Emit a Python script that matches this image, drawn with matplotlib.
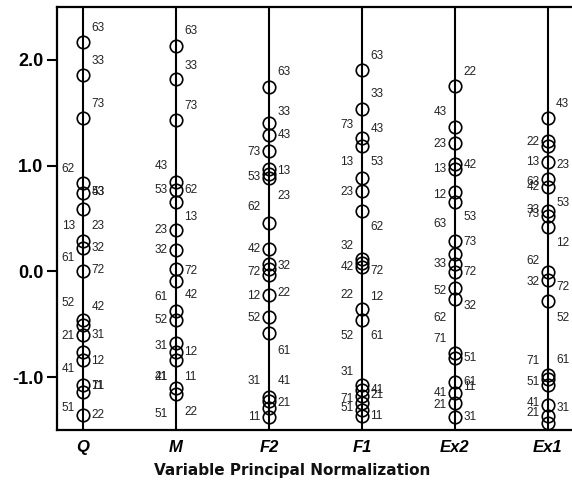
import matplotlib
matplotlib.use("Agg")
import matplotlib.pyplot as plt

# variables on the x axis
variables = ["Q", "M", "F2", "F1", "Ex2", "Ex1"]

# circle positions (object scores) per variable
q_points = [2.17, 1.86, 1.45, 0.84, 0.74, 0.59, 0.29, 0.22, 0.00, -0.46, -0.51,
            -0.60, -0.76, -0.84, -1.07, -1.14, -1.36]
m_points = [2.13, 1.82, 1.43, 0.85, 0.77, 0.66, 0.39, 0.20, 0.02, -0.09, -0.37,
            -0.46, -0.68, -0.76, -0.84, -1.10, -1.16]
f2_points = [1.74, 1.40, 1.29, 1.14, 0.97, 0.92, 0.88, 0.46, 0.21, 0.07, 0.02,
             -0.03, -0.22, -0.43, -0.58, -1.19, -1.23, -1.29, -1.38]
f1_points = [1.90, 1.54, 1.26, 1.19, 0.88, 0.76, 0.57, 0.12, 0.08, 0.04, -0.36,
             -0.46, -1.07, -1.12, -1.18, -1.24, -1.31, -1.37]
ex2_points = [1.75, 1.37, 1.21, 1.02, 0.97, 0.75, 0.66, 0.29, 0.16, 0.07, -0.01,
              -0.16, -0.26, -0.77, -0.82, -1.05, -1.15, -1.24, -1.38]
ex1_points = [1.45, 1.23, 1.19, 1.03, 0.87, 0.80, 0.57, 0.52, 0.42, -0.01, -0.08,
              -0.28, -0.98, -1.02, -1.07, -1.26, -1.37, -1.43]

# object labels: (text, side, value where the label sits)
q_labels = [("63", "r", 2.30), ("33", "r", 1.99), ("73", "r", 1.58), ("62", "l", 0.97),
            ("43", "r", 0.75), ("53", "r", 0.75), ("13", "l", 0.43), ("23", "r", 0.43),
            ("61", "l", 0.13), ("32", "r", 0.22), ("72", "r", 0.01), ("52", "l", -0.30),
            ("42", "r", -0.34), ("21", "l", -0.61), ("31", "r", -0.60), ("12", "r", -0.85),
            ("41", "l", -0.92), ("71", "r", -1.08), ("11", "r", -1.08), ("51", "l", -1.29),
            ("22", "r", -1.36)]
m_labels = [("63", "r", 2.27), ("33", "r", 1.94), ("73", "r", 1.56), ("43", "l", 1.00),
            ("53", "l", 0.77), ("62", "r", 0.77), ("13", "r", 0.51), ("23", "l", 0.39),
            ("32", "l", 0.20), ("72", "r", 0.00), ("61", "l", -0.24), ("42", "r", -0.22),
            ("52", "l", -0.46), ("31", "l", -0.71), ("12", "r", -0.76), ("21", "l", -1.00),
            ("41", "l", -1.00), ("11", "r", -1.00), ("51", "l", -1.35), ("22", "r", -1.33)]
f2_labels = [("63", "r", 1.89), ("33", "r", 1.51), ("43", "r", 1.29), ("73", "l", 1.13),
             ("13", "r", 0.95), ("53", "l", 0.89), ("23", "r", 0.71), ("62", "l", 0.61),
             ("42", "l", 0.21), ("32", "r", 0.05), ("72", "l", -0.01), ("22", "r", -0.20),
             ("12", "l", -0.23), ("52", "l", -0.44), ("61", "r", -0.75), ("31", "l", -1.04),
             ("41", "r", -1.04), ("21", "r", -1.24), ("11", "l", -1.38)]
f1_labels = [("63", "r", 2.04), ("33", "r", 1.68), ("73", "l", 1.38), ("43", "r", 1.35),
             ("13", "l", 1.03), ("53", "r", 1.03), ("23", "l", 0.75), ("62", "r", 0.42),
             ("32", "l", 0.24), ("42", "l", 0.04), ("72", "r", 0.00), ("22", "l", -0.22),
             ("12", "r", -0.24), ("52", "l", -0.61), ("61", "r", -0.61), ("31", "l", -0.95),
             ("41", "r", -1.12), ("21", "r", -1.17), ("71", "l", -1.21), ("51", "l", -1.29),
             ("11", "r", -1.37)]
ex2_labels = [("22", "r", 1.89), ("43", "l", 1.51), ("23", "l", 1.20), ("13", "l", 0.97),
              ("42", "r", 1.01), ("12", "l", 0.72), ("63", "l", 0.45), ("53", "r", 0.51),
              ("73", "r", 0.28), ("33", "l", 0.07), ("72", "r", -0.01), ("52", "l", -0.19),
              ("32", "r", -0.33), ("62", "l", -0.44), ("71", "l", -0.64), ("51", "r", -0.82),
              ("61", "r", -1.05), ("11", "r", -1.09), ("41", "l", -1.15), ("21", "l", -1.26),
              ("31", "r", -1.38)]
ex1_labels = [("43", "r", 1.58), ("22", "l", 1.22), ("13", "l", 1.03), ("23", "r", 1.01),
              ("63", "l", 0.85), ("42", "l", 0.80), ("53", "r", 0.65), ("33", "l", 0.58),
              ("73", "l", 0.54), ("12", "r", 0.27), ("62", "l", 0.10), ("32", "l", -0.10),
              ("72", "r", -0.15), ("52", "r", -0.44), ("71", "l", -0.85), ("61", "r", -0.84),
              ("51", "l", -1.05), ("41", "l", -1.24), ("21", "l", -1.34), ("31", "r", -1.29)]

all_points = [q_points, m_points, f2_points, f1_points, ex2_points, ex1_points]
all_labels = [q_labels, m_labels, f2_labels, f1_labels, ex2_labels, ex1_labels]

fig = plt.figure(figsize=(5.72, 4.87), dpi=100)
ax = fig.add_axes([0.0997, 0.117, 0.9003, 0.8686])

for i, (pts, labs) in enumerate(zip(all_points, all_labels)):
    ax.axvline(i, color="black", linewidth=1.5, zorder=1)
    ax.plot([i] * len(pts), pts, linestyle="none", marker="o", markersize=9,
            markerfacecolor="none", markeredgecolor="black", markeredgewidth=1.2,
            clip_on=False, zorder=2)
    # overlapping labels are kept overlapping, as in the original output
    for text, side, yv in labs:
        dx = 6 if side == "r" else -6
        ax.annotate(text, (i, yv), xytext=(dx, 0), textcoords="offset points",
                    ha="left" if side == "r" else "right", va="center",
                    fontsize=8.5, family="Liberation Sans", color="#222222")

ax.set_xlim(-0.28, 5.26)
ax.set_ylim(-1.5, 2.5)

ax.set_yticks([2.0, 1.0, 0.0, -1.0])
ax.set_yticklabels(["2.0", "1.0", "0.0", "-1.0"], fontsize=13, fontweight="bold",
                   family="Liberation Sans")
ax.set_xticks(range(len(variables)))
ax.set_xticklabels(variables, fontsize=12, fontweight="bold", fontstyle="italic",
                   family="Liberation Sans")
ax.tick_params(axis="y", direction="out", length=7, width=1.5, pad=3)
ax.tick_params(axis="x", length=0, pad=7)

fig.text(292 / 572, 1 - 470 / 487, "Variable Principal Normalization", fontsize=11,
         fontweight="bold", family="DejaVu Sans", ha="center", va="center",
         color="#111111")

for s in ["left", "top", "bottom"]:
    ax.spines[s].set_linewidth(1.6)
ax.spines["right"].set_visible(False)

fig.savefig("out.png", dpi=100)
